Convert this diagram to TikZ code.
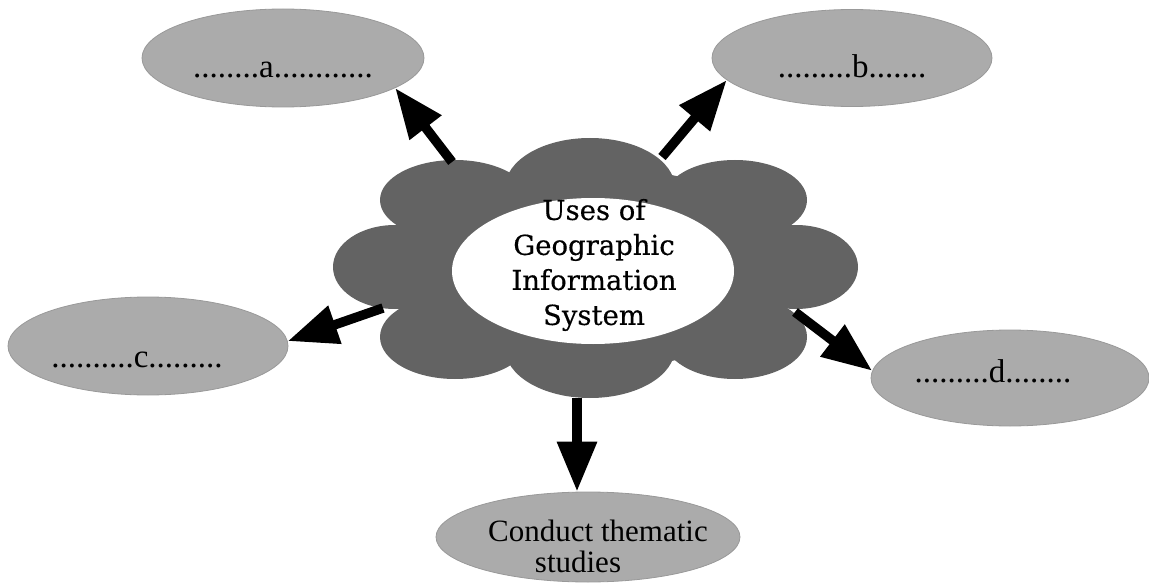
\documentclass[tikz,border=0pt]{standalone}
\usepackage{fontspec}
\setmainfont{Liberation Serif}
\newfontfamily\gisfont[FakeBold=0.4]{DejaVu Serif}
\usetikzlibrary{arrows.meta,shapes.geometric}
\definecolor{lobec}{HTML}{636363}
\definecolor{ovalc}{HTML}{ABABAB}
\definecolor{ovaledge}{HTML}{999999}
\begin{document}
\begin{tikzpicture}[x=1pt,y=-1pt,
  oval/.style={ellipse, fill=ovalc, draw=ovaledge, line width=0.8pt, inner sep=0pt},
  lbl/.style={anchor=base, font=\fontsize{33}{36}\selectfont, inner sep=0pt},
  bigarrow/.style={line width=9.5pt, -{Triangle[length=50pt,width=38pt]}},
  lobe/.style={fill=lobec}]
\useasboundingbox (0,0) rectangle (1149,583);
% cloud
\fill[lobe] (590,188) ellipse [x radius=85, y radius=50];
\fill[lobe] (455,200) ellipse [x radius=75, y radius=40];
\fill[lobe] (735,200) ellipse [x radius=72, y radius=40];
\fill[lobe] (395,267) ellipse [x radius=62, y radius=42];
\fill[lobe] (796,267) ellipse [x radius=62, y radius=42];
\fill[lobe] (455,337) ellipse [x radius=75, y radius=42];
\fill[lobe] (590,348) ellipse [x radius=85, y radius=50];
\fill[lobe] (735,337) ellipse [x radius=72, y radius=42];
\fill[lobe] (594,268) ellipse [x radius=210, y radius=100];
\node[ellipse, fill=white, inner sep=0pt, minimum width=282, minimum height=146] (gis) at (593,271) {};
\node[font=\gisfont\fontsize{27.5}{35}\selectfont, align=center, inner sep=0pt] (gistext) at (594,265)
  {Uses of\\Geographic\\Information\\System};
% outer ovals
\node[oval, minimum width=282, minimum height=98] (a) at (283,58) {};
\node[oval, minimum width=280, minimum height=97] (b) at (852,58) {};
\node[oval, minimum width=280, minimum height=98] (c) at (148,346) {};
\node[oval, minimum width=278, minimum height=96] (d) at (1010,378) {};
\node[oval, minimum width=304, minimum height=90] (e) at (588,537) {};
\node[lbl] (alabel) at (283,78) {........a............};
\node[lbl] (blabel) at (852,78) {.........b.......};
\node[lbl] (clabel) at (137,367) {..........c.........};
\node[lbl] (dlabel) at (993,382) {.........d........};
\node[lbl, font=\fontsize{31}{31}\selectfont, align=center, anchor=north, inner sep=0pt] (elabel) at (598,520)
  {Conduct thematic\\studies\kern40pt};
% arrow tails on the cloud
\coordinate (ta) at (452,162);
\coordinate (tb) at (662,157);
\coordinate (tc) at (383,308);
\coordinate (td) at (795,312);
\coordinate (te) at (577,398);
\draw[bigarrow] (ta) -- (a.-15);
\draw[bigarrow] (tb) -- (b.190);
\draw[bigarrow] (tc) -- (c.2);
\draw[bigarrow] (td) -- (d.177);
\draw[bigarrow] (te) -- (te |- e.north);
\end{tikzpicture}
\end{document}
